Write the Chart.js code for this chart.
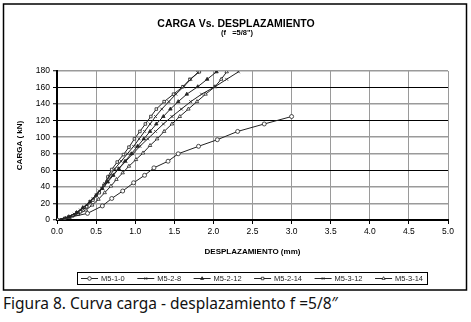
<!DOCTYPE html>
<html>
<head>
<meta charset="utf-8">
<script src="https://cdn.jsdelivr.net/npm/chart.js@4/dist/chart.umd.min.js"></script>
<style>
  body { margin: 0; background: #fff; width: 471px; height: 322px; overflow: hidden; position: relative; }
  #wrap { position: absolute; left: 0; top: 0; width: 471px; height: 292px; }
  #caption { position: absolute; left: 3px; top: 292px; font: 15.5px "Noto Sans", sans-serif; color: #111; white-space: nowrap; }
</style>
</head>
<body>
<div id="wrap"><canvas id="chart"></canvas></div>
<div id="caption">Figura 8. Curva carga - desplazamiento f =5/8″</div>
<script>
// series labels and markers
const seriesNames  = ["M5-1-0", "M5-2-8", "M5-2-12", "M5-2-14", "M5-3-12", "M5-3-14"];
const seriesMarks  = ["circle", "crossRot", "triangle", "rect", "crossRot", "triangle"];
const seriesFilled = [false, false, true, false, false, false];

// displacement (mm) / load (kN) per specimen
const m510X = [0, 0.39, 0.58, 0.70, 0.84, 0.98, 1.12, 1.24, 1.42, 1.55, 1.81, 2.05, 2.31, 2.65, 3.00];
const m510Y = [0, 8, 17, 26, 35, 45, 54, 63, 71, 80, 89, 97, 107, 116, 125];

const m528X = [0, 0.12, 0.22, 0.30, 0.38, 0.46, 0.54, 0.61, 0.67, 0.74, 0.82, 0.90, 0.98, 1.05, 1.12, 1.19, 1.26, 1.34, 1.43, 1.52, 1.62, 1.71, 1.80];
const m528Y = [0, 3, 7, 12, 18, 26, 35, 44, 53, 62, 71, 80, 89, 98, 107, 116, 125, 134, 143, 152, 161, 170, 178];

const m5212X = [0, 0.15, 0.25, 0.33, 0.42, 0.50, 0.58, 0.65, 0.72, 0.79, 0.87, 0.95, 1.03, 1.11, 1.19, 1.27, 1.36, 1.45, 1.55, 1.66, 1.80, 1.92, 2.04];
const m5212Y = [0, 4, 9, 15, 22, 30, 38, 46, 54, 62, 71, 80, 89, 98, 107, 116, 125, 134, 143, 152, 161, 170, 179];

const m5214X = [0, 0.10, 0.20, 0.30, 0.38, 0.46, 0.54, 0.60, 0.65, 0.70, 0.77, 0.85, 0.92, 0.99, 1.06, 1.13, 1.20, 1.27, 1.37, 1.49, 1.61, 1.70, 1.82];
const m5214Y = [0, 2, 5, 10, 16, 24, 33, 42, 52, 61, 70, 79, 88, 98, 107, 116, 125, 134, 143, 152, 161, 170, 179];

const m5312X = [0, 0.15, 0.25, 0.34, 0.42, 0.50, 0.57, 0.64, 0.71, 0.79, 0.88, 0.97, 1.06, 1.16, 1.26, 1.36, 1.47, 1.59, 1.71, 1.85, 2.02, 2.17, 2.32];
const m5312Y = [0, 4, 9, 15, 22, 30, 38, 46, 54, 62, 71, 80, 89, 98, 107, 116, 125, 134, 143, 152, 161, 170, 179];

const m5314X = [0, 0.16, 0.27, 0.37, 0.45, 0.53, 0.61, 0.69, 0.76, 0.84, 0.92, 1.01, 1.10, 1.19, 1.28, 1.37, 1.47, 1.57, 1.68, 1.79, 1.90, 2.02, 2.10, 2.17];
const m5314Y = [0, 3, 7, 12, 18, 25, 33, 41, 49, 57, 65, 73, 81, 90, 98, 107, 116, 125, 134, 143, 152, 161, 170, 179];

const seriesX = [m510X, m528X, m5212X, m5214X, m5312X, m5314X];
const seriesY = [m510Y, m528Y, m5212Y, m5214Y, m5312Y, m5314Y];

// axis ticks
const xTicks = [0, 0.5, 1, 1.5, 2, 2.5, 3, 3.5, 4, 4.5, 5];
const yTicks = [0, 20, 40, 60, 80, 100, 120, 140, 160, 180];
const darkRows = [60, 120, 160];   // grid rows that came out darker in the scan

const FONT = '"Liberation Sans", Arial, sans-serif';
const INK = "#222";

//-----------------------------------------------------------------------------
// build the datasets
//-----------------------------------------------------------------------------
const datasets = seriesNames.map((name, i) => ({
    label: name,
    data: seriesX[i].map((x, j) => ({ x: x, y: seriesY[i][j] })),
    showLine: true,
    borderColor: INK,
    borderWidth: 1,
    pointStyle: seriesMarks[i],
    pointRadius: seriesMarks[i] === "rect" ? 1.8 : 2,
    pointBorderWidth: 0.8,
    pointBorderColor: INK,
    pointBackgroundColor: seriesFilled[i] ? INK : "#fff",
    tension: 0
}));

//-----------------------------------------------------------------------------
// frame, titles and an excel-like legend
//-----------------------------------------------------------------------------
const decorations = {
    id: "decorations",
    afterDraw(chart) {
        const ctx = chart.ctx;
        ctx.save();

        // outer frame
        ctx.strokeStyle = "#000";
        ctx.lineWidth = 1.5;
        ctx.strokeRect(3.5, 4, 463, 286);

        // titles
        ctx.fillStyle = "#000";
        ctx.textAlign = "center";
        ctx.textBaseline = "alphabetic";
        ctx.font = `bold 10.5px ${FONT}`;
        ctx.fillText("CARGA Vs. DESPLAZAMIENTO", 236, 27);
        ctx.font = `bold 7.5px ${FONT}`;
        ctx.fillText('(f   =5/8")', 237, 34.5);

        // legend box
        const box = { left: 77, top: 272, right: 427, bottom: 284 };
        ctx.strokeStyle = "#000";
        ctx.lineWidth = 1;
        ctx.strokeRect(box.left + 0.5, box.top + 0.5, box.right - box.left, box.bottom - box.top);

        ctx.font = `7.5px ${FONT}`;
        const lineLen = 17, gap = 3;
        const widths = seriesNames.map(n => lineLen + gap + ctx.measureText(n).width);
        const used = widths.reduce((a, w) => a + w, 0);
        const itemGap = (box.right - box.left - 8 - used) / (widths.length - 1);
        let x = box.left + 4;
        const y = (box.top + box.bottom) / 2 + 0.5;
        ctx.textAlign = "left";
        ctx.textBaseline = "middle";
        seriesNames.forEach((name, i) => {
            ctx.strokeStyle = INK;
            ctx.lineWidth = 1;
            ctx.beginPath();
            ctx.moveTo(x, y);
            ctx.lineTo(x + lineLen, y);
            ctx.stroke();
            ctx.fillStyle = seriesFilled[i] ? INK : "#fff";
            ctx.strokeStyle = INK;
            ctx.lineWidth = 0.8;
            Chart.helpers.drawPoint(ctx, {
                pointStyle: seriesMarks[i],
                radius: 1.8,
                borderWidth: 0.8,
                rotation: 0
            }, x + lineLen / 2, y);
            ctx.fillStyle = INK;
            ctx.fillText(name, x + lineLen + gap, y);
            x += widths[i] + itemGap;
        });

        ctx.restore();
    }
};

//-----------------------------------------------------------------------------
// the chart
//-----------------------------------------------------------------------------
const ctx = document.getElementById("chart").getContext("2d");
const chart = new Chart(ctx, {
    type: "scatter",
    data: { datasets: datasets },
    options: {
        responsive: true,
        maintainAspectRatio: false,
        animation: false,
        layout: { padding: { top: 71, right: 23, bottom: 34, left: 0 } },
        plugins: {
            legend: { display: false },
            title: { display: false },
            tooltip: { enabled: false }
        },
        scales: {
            x: {
                type: "linear",
                min: xTicks[0],
                max: xTicks[xTicks.length - 1],
                afterBuildTicks: axis => { axis.ticks = xTicks.map(v => ({ value: v })); },
                afterFit: axis => { axis.height = 38; },
                border: { color: "#000", width: 2 },
                grid: { color: "#9a9a9a", lineWidth: 1, tickLength: 4, tickColor: "#000", tickWidth: 1 },
                ticks: {
                    padding: 3,
                    color: "#000",
                    font: { family: FONT, size: 8.5 },
                    maxRotation: 0,
                    callback: v => Number(v).toFixed(1)
                },
                title: {
                    display: true,
                    text: "DESPLAZAMIENTO (mm)",
                    color: "#000",
                    font: { family: FONT, size: 8, weight: "bold" },
                    padding: { top: 2, bottom: 1 }
                }
            },
            y: {
                type: "linear",
                min: yTicks[0],
                max: yTicks[yTicks.length - 1],
                afterBuildTicks: axis => { axis.ticks = yTicks.map(v => ({ value: v })); },
                afterFit: axis => { axis.width = 57; },
                border: { color: "#000", width: 2 },
                grid: {
                    color: c => (c.tick && darkRows.includes(c.tick.value)) ? "#000" : "#9a9a9a",
                    lineWidth: c => (c.tick && darkRows.includes(c.tick.value)) ? 1 : 1.5,
                    tickLength: 4,
                    tickColor: "#000",
                    tickWidth: 1
                },
                ticks: {
                    padding: 3,
                    color: "#000",
                    font: { family: FONT, size: 8.5 }
                },
                title: {
                    display: true,
                    text: "CARGA ( kN)",
                    color: "#000",
                    font: { family: FONT, size: 8, weight: "bold" },
                    padding: { top: 15, bottom: 0 }
                }
            }
        }
    },
    plugins: [decorations]
});
</script>
</body>
</html>
